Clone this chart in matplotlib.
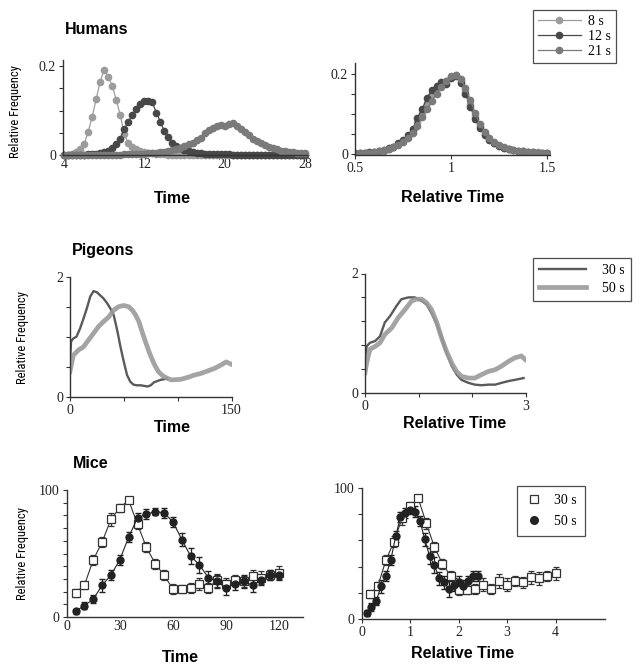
import numpy as np
import matplotlib.pyplot as plt
from matplotlib.lines import Line2D

plt.rcParams["font.family"] = ["Liberation Serif", "DejaVu Serif"]

# Humans: absolute time (s)
human_time = [4.0, 4.4, 4.8, 5.2, 5.6, 6.0, 6.4, 6.8, 7.2, 7.6,
              8.0, 8.4, 8.8, 9.2, 9.6, 10.0, 10.4, 10.8, 11.2, 11.6,
              12.0, 12.4, 12.8, 13.2, 13.6, 14.0, 14.4, 14.8, 15.2, 15.6,
              16.0, 16.4, 16.8, 17.2, 17.6, 18.0, 18.4, 18.8, 19.2, 19.6,
              20.0, 20.4, 20.8, 21.2, 21.6, 22.0, 22.4, 22.8, 23.2, 23.6,
              24.0, 24.4, 24.8, 25.2, 25.6, 26.0, 26.4, 26.8, 27.2, 27.6,
              28.0]
human_8s = [0.000, 0.000, 0.002, 0.006, 0.013, 0.024, 0.052, 0.085, 0.125, 0.165,
            0.192, 0.176, 0.156, 0.124, 0.090, 0.047, 0.026, 0.018, 0.014, 0.010,
            0.007, 0.005, 0.004, 0.003, 0.003, 0.002, 0.001, 0.001, 0.001, 0.001,
            0.001, 0.001, 0.001, 0.001, 0.001, 0.001, 0.001, 0.001, 0.001, 0.001,
            0.001, 0.001, 0.001, 0.001, 0.001, 0.001, 0.001, 0.001, 0.000, 0.000,
            0.000, 0.000, 0.000, 0.000, 0.000, 0.000, 0.000, 0.000, 0.000, 0.000,
            0.000]
human_12s = [0.000, 0.000, 0.000, 0.001, 0.001, 0.001, 0.002, 0.002, 0.003, 0.004,
             0.006, 0.009, 0.015, 0.024, 0.037, 0.058, 0.075, 0.090, 0.103, 0.115,
             0.121, 0.122, 0.118, 0.095, 0.075, 0.053, 0.041, 0.028, 0.020, 0.015,
             0.012, 0.009, 0.007, 0.005, 0.004, 0.003, 0.002, 0.002, 0.002, 0.002,
             0.002, 0.002, 0.001, 0.001, 0.001, 0.001, 0.001, 0.001, 0.001, 0.001,
             0.001, 0.001, 0.001, 0.001, 0.001, 0.001, 0.001, 0.001, 0.001, 0.001,
             0.001]
human_21s = [0.000, 0.000, 0.000, 0.000, 0.000, 0.000, 0.000, 0.000, 0.001, 0.001,
             0.001, 0.001, 0.001, 0.001, 0.001, 0.002, 0.002, 0.002, 0.003, 0.003,
             0.003, 0.004, 0.004, 0.005, 0.006, 0.007, 0.009, 0.011, 0.013, 0.016,
             0.020, 0.024, 0.028, 0.033, 0.039, 0.049, 0.056, 0.061, 0.065, 0.067,
             0.066, 0.069, 0.071, 0.066, 0.058, 0.051, 0.044, 0.037, 0.031, 0.026,
             0.022, 0.018, 0.015, 0.013, 0.010, 0.009, 0.007, 0.006, 0.005, 0.004,
             0.004]

# Humans: relative time
human_rel = [0.500, 0.525, 0.550, 0.575, 0.600, 0.625, 0.650, 0.675, 0.700, 0.725,
             0.750, 0.775, 0.800, 0.825, 0.850, 0.875, 0.900, 0.925, 0.950, 0.975,
             1.000, 1.025, 1.050, 1.075, 1.100, 1.125, 1.150, 1.175, 1.200, 1.225,
             1.250, 1.275, 1.300, 1.325, 1.350, 1.375, 1.400, 1.425, 1.450, 1.475,
             1.500]
human_rel_8s = [0.001, 0.002, 0.002, 0.003, 0.004, 0.006, 0.008, 0.012, 0.017, 0.024,
                0.032, 0.042, 0.058, 0.080, 0.102, 0.128, 0.150, 0.165, 0.175, 0.183,
                0.193, 0.196, 0.182, 0.158, 0.125, 0.095, 0.070, 0.050, 0.036, 0.026,
                0.020, 0.015, 0.011, 0.009, 0.007, 0.006, 0.005, 0.004, 0.004, 0.003,
                0.003]
human_rel_12s = [0.000, 0.001, 0.002, 0.004, 0.005, 0.006, 0.010, 0.014, 0.018, 0.026,
                 0.035, 0.046, 0.062, 0.090, 0.112, 0.140, 0.160, 0.170, 0.180, 0.175,
                 0.190, 0.195, 0.178, 0.150, 0.118, 0.088, 0.064, 0.046, 0.034, 0.026,
                 0.020, 0.015, 0.012, 0.010, 0.008, 0.006, 0.005, 0.004, 0.003, 0.003,
                 0.002]
human_rel_21s = [0.001, 0.002, 0.003, 0.003, 0.005, 0.007, 0.009, 0.012, 0.016, 0.022,
                 0.030, 0.040, 0.052, 0.070, 0.092, 0.112, 0.132, 0.150, 0.168, 0.182,
                 0.195, 0.198, 0.188, 0.165, 0.135, 0.102, 0.075, 0.055, 0.040, 0.030,
                 0.022, 0.016, 0.012, 0.009, 0.007, 0.006, 0.005, 0.004, 0.003, 0.003,
                 0.002]

# Pigeons: absolute time (s)
pigeon30_t = [0, 1, 3, 6, 9.4, 12.5, 15.6, 18.8, 21.9, 25, 28, 31, 34.4, 37.5, 40.6,
              43.8, 46.9, 50, 53, 56, 59, 62, 65.6, 69, 72, 75, 78, 81, 84, 87, 90]
pigeon30_f = [0.6, 0.92, 0.97, 1.0, 1.14, 1.3, 1.47, 1.67, 1.76, 1.74, 1.69, 1.64, 1.56, 1.47, 1.36,
              1.11, 0.83, 0.58, 0.36, 0.25, 0.2, 0.19, 0.19, 0.18, 0.17, 0.19, 0.24, 0.26, 0.28, 0.29, 0.3]
pigeon50_t = [0, 3, 8, 12.5, 17, 22, 26.5, 31, 36, 40.5, 45, 50, 54.5, 58, 61, 64, 67, 70,
              74, 78, 82, 86, 90, 94, 103, 109, 115.5, 122, 128, 134, 140.5, 145, 150]
pigeon50_f = [0.42, 0.69, 0.78, 0.83, 0.94, 1.06, 1.17, 1.25, 1.33, 1.44, 1.5, 1.52, 1.5, 1.44,
              1.36, 1.25, 1.08, 0.92, 0.72, 0.55, 0.42, 0.35, 0.31, 0.28, 0.29, 0.32, 0.36, 0.39,
              0.43, 0.47, 0.53, 0.58, 0.54]

# Pigeons: relative time
pigeon30_rel = [0, 0.03, 0.09, 0.19, 0.28, 0.37, 0.47, 0.59, 0.68, 0.81, 0.93, 1.06, 1.15, 1.24,
                1.34, 1.43, 1.52, 1.62, 1.71, 1.80, 1.93, 2.05, 2.18, 2.30, 2.43, 2.55, 2.68, 2.80, 2.96]
pigeon30_rel_f = [0.5, 0.78, 0.84, 0.87, 0.95, 1.18, 1.29, 1.46, 1.57, 1.6, 1.6, 1.54, 1.48, 1.34,
                  1.15, 0.92, 0.67, 0.45, 0.31, 0.22, 0.17, 0.14, 0.13, 0.14, 0.14, 0.17, 0.2, 0.22, 0.25]
pigeon50_rel = [0, 0.03, 0.09, 0.19, 0.28, 0.37, 0.5, 0.62, 0.75, 0.87, 0.96, 1.06, 1.15, 1.24, 1.34,
                1.43, 1.52, 1.62, 1.71, 1.80, 1.93, 2.05, 2.18, 2.30, 2.43, 2.55, 2.68, 2.80, 2.92, 2.99]
pigeon50_rel_f = [0.34, 0.5, 0.73, 0.78, 0.84, 0.98, 1.09, 1.26, 1.4, 1.54, 1.57, 1.57, 1.51, 1.4, 1.18,
                  0.92, 0.7, 0.5, 0.36, 0.28, 0.25, 0.25, 0.31, 0.36, 0.39, 0.45, 0.53, 0.59, 0.62, 0.56]

# Mice: 5 s bins
mice_time = [5, 10, 15, 20, 25, 30, 35, 40, 45, 50, 55, 60,
             65, 70, 75, 80, 85, 90, 95, 100, 105, 110, 115, 120]
mice_30s = [19, 25, 45, 59, 77, 86, 92, 73, 55, 42, 33, 22,
            22, 23, 26, 23, 29, 26, 29, 28, 32, 31, 33, 35]
mice_30s_err = [3, 3, 4, 4, 5, 3, 2, 4, 4, 4, 4, 4,
                3, 4, 5, 4, 5, 5, 4, 4, 5, 5, 4, 5]
mice_50s = [4.5, 9, 14, 25, 33, 45, 63, 78, 81, 83, 82, 75,
            61, 48, 41, 31, 28, 23, 26, 28, 25, 29, 33, 33]
mice_50s_err = [2, 3, 3, 5, 4, 4, 4, 4, 4, 3, 4, 4,
                5, 6, 6, 5, 5, 6, 5, 5, 5, 4, 4, 4]

W, H = 640, 670
fig = plt.figure(figsize=(W / 100, H / 100), dpi=100)

SANS = ["Liberation Sans", "DejaVu Sans"]
NARROW = ["Liberation Sans Narrow", "Roboto Condensed", "Liberation Sans"]
LIGHT, DARK, MID = "#9c9c9c", "#484848", "#7a7a7a"


def panel(x0, y0, x1, y1):
    ax = fig.add_axes([x0 / W, 1 - y1 / H, (x1 - x0) / W, (y1 - y0) / H])
    ax.spines["top"].set_visible(False)
    ax.spines["right"].set_visible(False)
    for s in ["left", "bottom"]:
        ax.spines[s].set_color("#333333")
        ax.spines[s].set_linewidth(1.0)
    ax.tick_params(direction="out", length=3, width=0.8, color="#333333",
                   labelsize=10, pad=2, labelcolor="#222222")
    ax.patch.set_alpha(0)
    return ax


def ftext(x, y, s, **kw):
    fig.text(x / W, 1 - y / H, s, va="center", **kw)


# ---- Humans
ax = panel(63, 60, 307, 155)
for vals, c in [(human_8s, LIGHT), (human_12s, DARK), (human_21s, MID)]:
    ax.plot(human_time, vals, "-o", color=c, lw=0.9, ms=4.5, clip_on=False)
ax.set_xlim(3.9, 28.2)
ax.set_ylim(0, 0.2135)
ax.set_xticks([4, 12, 20, 28], ["4", "12", "20", "28"])
ax.tick_params(axis="x", length=0)
ax.set_yticks([0, 0.05, 0.1, 0.15, 0.2], ["0", "", "", "", "0.2"])

ax = panel(355, 63, 550, 155)
hl = []
for vals, c, lab in [(human_rel_8s, LIGHT, "8 s"), (human_rel_12s, DARK, "12 s"),
                     (human_rel_21s, MID, "21 s")]:
    hl += ax.plot(human_rel, vals, "-o", color=c, lw=0.9, ms=4.5, label=lab)
ax.set_xlim(0.5, 1.515)
ax.set_ylim(-0.003, 0.227)
ax.set_xticks([0.5, 1, 1.5], ["0.5", "1", "1.5"])
ax.set_yticks([0, 0.05, 0.1, 0.15, 0.2], ["0", "", "", "", "0.2"])
fig.legend(handles=hl, loc="upper left", bbox_to_anchor=(533 / W, 1 - 10 / H),
           frameon=True, fancybox=False, edgecolor="#222222", fontsize=10,
           handlelength=3.1, handletextpad=0.5, labelspacing=0.15,
           borderpad=0.35, borderaxespad=0).get_frame().set_linewidth(0.9)

ftext(65, 30, "Humans", family=SANS, weight="bold", size=11.5)
ftext(172, 198, "Time", family=SANS, weight="bold", size=11.5, ha="center")
ftext(453, 197, "Relative Time", family=SANS, weight="bold", size=11.5, ha="center")
ftext(16, 112, "Relative Frequency", family=NARROW, size=9, ha="center", rotation=90)

# ---- Pigeons
ax = panel(70, 276.7, 231.5, 396.7)
ax.plot(pigeon30_t, pigeon30_f, color="#5a5a5a", lw=1.7)
ax.plot(pigeon50_t, pigeon50_f, color="#9a9a9a", lw=3.4, alpha=0.9)
ax.set_xlim(0, 150)
ax.set_ylim(0, 2)
ax.set_xticks([0, 50, 100, 150], ["0", "", "", "150"])
ax.set_yticks([0, 0.5, 1, 1.5, 2], ["0", "", "", "", "2"])

ax = panel(365, 273.5, 525.7, 393)
pl = ax.plot(pigeon30_rel, pigeon30_rel_f, color="#5a5a5a", lw=1.7, label="30 s")
pl += ax.plot(pigeon50_rel, pigeon50_rel_f, color="#9a9a9a", lw=3.4, alpha=0.9, label="50 s")
ax.set_xlim(0, 3)
ax.set_ylim(0, 2)
ax.set_xticks([0, 1, 2, 3], ["0", "", "", "3"])
ax.set_yticks([0, 0.4, 0.8, 1.2, 1.6, 2.0], ["0", "", "", "", "", "2"])
fig.legend(handles=pl, loc="upper left", bbox_to_anchor=(533 / W, 1 - 258 / H),
           frameon=True, fancybox=False, edgecolor="#222222", fontsize=10,
           handlelength=3.4, handletextpad=1.1, labelspacing=0.35,
           borderpad=0.45, borderaxespad=0).get_frame().set_linewidth(0.9)

ftext(72, 251, "Pigeons", family=SANS, weight="bold", size=11.5)
ftext(172, 427, "Time", family=SANS, weight="bold", size=11.5, ha="center")
ftext(455, 423, "Relative Time", family=SANS, weight="bold", size=11.5, ha="center")
ftext(23, 337, "Relative Frequency", family=NARROW, size=9, ha="center", rotation=90)

# ---- Mice
sq_style = dict(fmt="-s", color="#333333", mfc="white", mec="#333333", ms=5.5, mew=0.9,
                lw=0.8, ecolor="#333333", elinewidth=0.9, capsize=2.5, clip_on=False)
ci_style = dict(fmt="-o", color="#222222", mfc="#222222", mec="#222222", ms=5,
                lw=0.8, ecolor="#222222", elinewidth=0.9, capsize=2.5, clip_on=False)

ax = panel(66.7, 490, 303, 617)
ax.errorbar(mice_time, mice_30s, yerr=mice_30s_err, **sq_style)
ax.errorbar(mice_time, mice_50s, yerr=mice_50s_err, **ci_style)
ax.set_xlim(0, 133.5)
ax.set_ylim(0, 100)
ax.set_xticks([0, 30, 60, 90, 120])
ax.tick_params(axis="x", length=0)
ax.set_yticks(range(0, 101, 10), ["0"] + [""] * 9 + ["100"])

ax = panel(361.7, 488, 605, 619)
ax.errorbar(np.array(mice_time) / 30, mice_30s, yerr=mice_30s_err, **sq_style)
ax.errorbar(np.array(mice_time) / 50, mice_50s, yerr=mice_50s_err, **ci_style)
ax.set_xlim(0, 5.02)
ax.set_ylim(0, 100)
ax.set_xticks([0, 1, 2, 3, 4])
ax.set_yticks([0, 20, 40, 60, 80, 100], ["0", "", "", "", "", "100"])
ml = [Line2D([], [], ls="none", marker="s", mfc="white", mec="#333333", ms=6, mew=0.9, label="30 s"),
      Line2D([], [], ls="none", marker="o", mfc="#222222", mec="#222222", ms=5.5, label="50 s")]
fig.legend(handles=ml, loc="upper left", bbox_to_anchor=(517 / W, 1 - 486 / H),
           frameon=True, fancybox=False, edgecolor="#222222", fontsize=10,
           handlelength=1.2, handletextpad=0.9, labelspacing=0.55,
           borderpad=0.6, borderaxespad=0).get_frame().set_linewidth(0.9)

ftext(73, 464, "Mice", family=SANS, weight="bold", size=11.5)
ftext(180, 657, "Time", family=SANS, weight="bold", size=11.5, ha="center")
ftext(463, 654, "Relative Time", family=SANS, weight="bold", size=11.5, ha="center")
ftext(23, 553, "Relative Frequency", family=NARROW, size=9, ha="center", rotation=90)

fig.savefig("out.png", dpi=100)
